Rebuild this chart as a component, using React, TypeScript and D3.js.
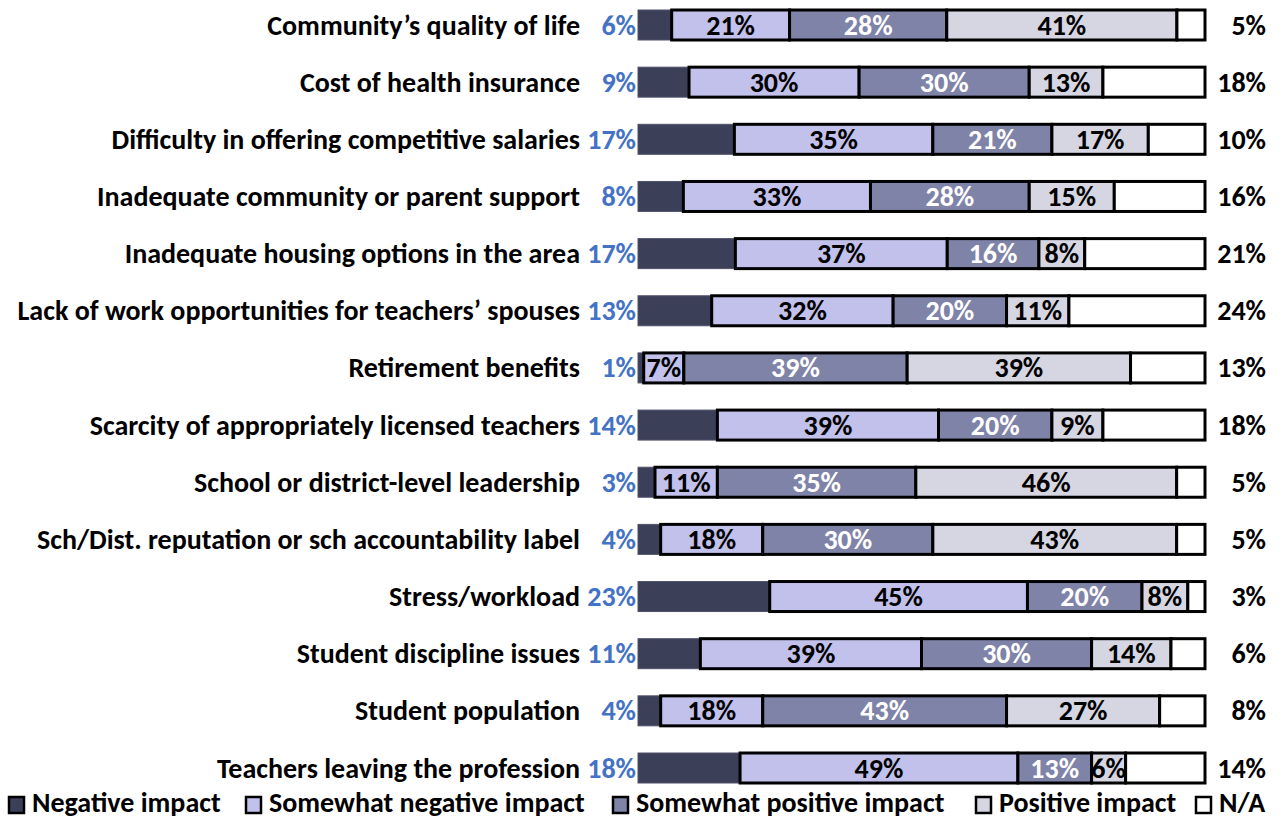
import React from "react";
import * as d3 from "d3";

const categories = [
  "Community’s quality of life",
  "Cost of health insurance",
  "Difficulty in offering competitive salaries",
  "Inadequate community or parent support",
  "Inadequate housing options in the area",
  "Lack of work opportunities for teachers’ spouses",
  "Retirement benefits",
  "Scarcity of appropriately licensed teachers",
  "School or district-level leadership",
  "Sch/Dist. reputation or sch accountability label",
  "Stress/workload",
  "Student discipline issues",
  "Student population",
  "Teachers leaving the profession",
];

const seriesNames = [
  "Negative impact",
  "Somewhat negative impact",
  "Somewhat positive impact",
  "Positive impact",
  "N/A",
];

const negative = [6, 9, 17, 8, 17, 13, 1, 14, 3, 4, 23, 11, 4, 18];
const somewhatNegative = [21, 30, 35, 33, 37, 32, 7, 39, 11, 18, 45, 39, 18, 49];
const somewhatPositive = [28, 30, 21, 28, 16, 20, 39, 20, 35, 30, 20, 30, 43, 13];
const positive = [41, 13, 17, 15, 8, 11, 39, 9, 46, 43, 8, 14, 27, 6];
const notApplicable = [5, 18, 10, 16, 21, 24, 13, 18, 5, 5, 3, 6, 8, 14];

const colors = ["#3c3f58", "#c1c1eb", "#7f83a8", "#d5d6e2", "#ffffff"];
const textColors = ["#4472c4", "#000000", "#ffffff", "#000000", "#000000"];

const FONT = "Carlito, Calibri, 'Liberation Sans Narrow', 'DejaVu Sans Condensed', 'Open Sans', sans-serif";

export default function App() {
  const W = 1282;
  const H = 819;
  const series = [negative, somewhatNegative, somewhatPositive, positive, notApplicable];
  const rows = categories.map((c, i) => {
    const vals = series.map((s) => s[i]);
    const total = d3.sum(vals);
    const stack: { key: number; v: number; x0: number; x1: number }[] = [];
    let acc = 0;
    vals.forEach((v, k) => {
      stack.push({ key: k, v, x0: acc / total, x1: (acc + v) / total });
      acc += v;
    });
    return { c, stack };
  });

  const x = d3.scaleLinear().domain([0, 1]).range([638, 1205]);
  const y = d3.scalePoint<string>().domain(categories).range([25, 768]);
  const barH = 30;
  const fs = 28;

  const legendX = [8, 245, 612, 975, 1195];

  return (
    <svg width={W} height={H} style={{ position: "absolute", left: 0, top: 0, background: "#fff" }} fontFamily={FONT} fontWeight="bold">
      {rows.map((r) => {
        const cy = y(r.c)!;
        return (
          <g key={r.c}>
            <text x={580} y={cy} textAnchor="end" dominantBaseline="central" fontSize={fs} fill="#000">{r.c}</text>
            {r.stack.map((s) => (
              <rect key={"r" + s.key} x={x(s.x0)} y={cy - barH / 2} width={x(s.x1) - x(s.x0)} height={barH}
                fill={colors[s.key]} stroke={s.key === 0 ? "#50536b" : "#000"} strokeWidth={s.key === 0 ? 1 : 3} />
            ))}
            {r.stack.map((s) => {
              if (s.key === 0) {
                return <text key={"t" + s.key} x={636} y={cy} textAnchor="end" dominantBaseline="central" fontSize={fs} fill={textColors[0]}>{s.v}%</text>;
              }
              if (s.key === 4) {
                return <text key={"t" + s.key} x={1266} y={cy} textAnchor="end" dominantBaseline="central" fontSize={fs} fill="#000">{s.v}%</text>;
              }
              return <text key={"t" + s.key} x={(x(s.x0) + x(s.x1)) / 2} y={cy} textAnchor="middle" dominantBaseline="central" fontSize={fs} fill={textColors[s.key]}>{s.v}%</text>;
            })}
          </g>
        );
      })}
      {seriesNames.map((n, i) => (
        <g key={n}>
          <rect x={legendX[i] + 1} y={797} width={15} height={16} fill={colors[i]} stroke="#000" strokeWidth={2.5} />
          <text x={legendX[i] + 24} y={802} dominantBaseline="central" fontSize={fs} fill="#000">{n}</text>
        </g>
      ))}
    </svg>
  );
}
